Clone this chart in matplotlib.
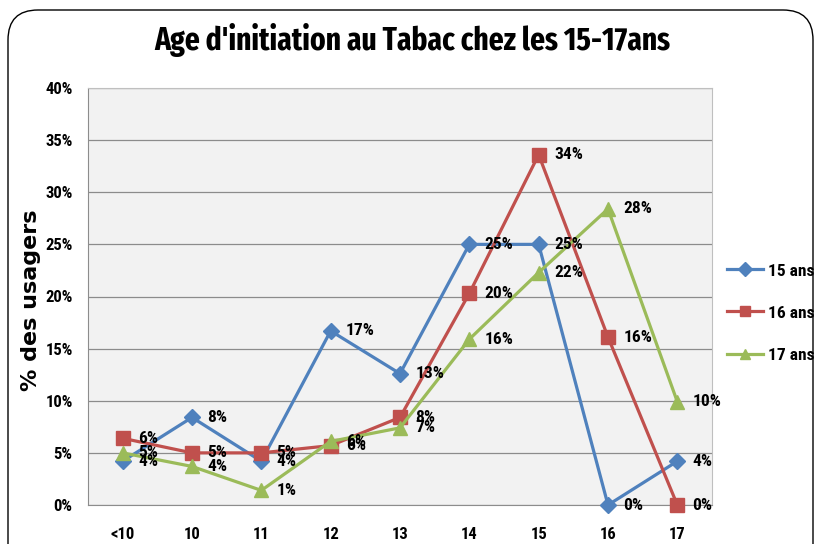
import matplotlib
matplotlib.use("Agg")
import matplotlib.pyplot as plt
from matplotlib.patches import FancyBboxPatch
from matplotlib import font_manager

categories = ["<10", "10", "11", "12", "13", "14", "15", "16", "17"]
s15 = [4.2, 8.4, 4.2, 16.7, 12.6, 25.0, 25.0, 0.0, 4.2]
s16 = [6.4, 5.0, 5.0, 5.7, 8.4, 20.3, 33.6, 16.1, 0.0]
s17 = [5.0, 3.7, 1.4, 6.1, 7.4, 15.9, 22.3, 28.4, 9.9]
series_names = ["15 ans", "16 ans", "17 ans"]
yticks = [0, 5, 10, 15, 20, 25, 30, 35, 40]

names = {f.name for f in font_manager.fontManager.ttflist}


def pick(cands):
    for cand in cands:
        if cand in names:
            return cand
    return "DejaVu Sans"


narrow = pick(["Roboto Condensed", "PT Sans Narrow", "Open Sans Condensed", "Carlito"])
title_font = pick(["Fira Sans Extra Condensed", "Roboto Condensed", "PT Sans Narrow"])

fig = plt.figure(figsize=(8.15, 5.44), dpi=100)
border = FancyBboxPatch((0.08, -0.5), 8.05, 5.34 + 0.5,
                        boxstyle="round,pad=0,rounding_size=0.3",
                        transform=fig.dpi_scale_trans, fill=False,
                        edgecolor="black", linewidth=1.0)
fig.patches.append(border)

W, H = 815, 544
ax = fig.add_axes([88 / W, 1 - 505 / H, (712 - 88) / W, (505 - 88) / H])
ax.set_facecolor("#F2F2F2")
x = list(range(len(categories)))
colors = ["#4F81BD", "#C0504D", "#9BBB59"]
markers = ["D", "s", "^"]
msizes = [8.5, 9.5, 10.5]
for vals, name, c, m, ms in zip([s15, s16, s17], series_names, colors, markers, msizes):
    ax.plot(x, vals, color=c, marker=m, markersize=ms, linewidth=2.3, label=name,
            clip_on=False, zorder=3)
    for xi, v in zip(x, vals):
        ax.annotate(f"{round(v):.0f}%", (xi, v), xytext=(11, 0), textcoords="offset points",
                    va="center", ha="left", fontsize=12.5, fontweight="bold",
                    family=narrow, color="black", zorder=4)

ax.set_xlim(-0.5, len(categories) - 0.5)
ax.set_ylim(0, 40)
ax.set_yticks(yticks)
ax.set_yticklabels([f"{t}%" for t in yticks], family=narrow, fontweight="bold", fontsize=12)
ax.set_xticks(x)
ax.set_xticklabels(categories, family=narrow, fontweight="bold", fontsize=12)
ax.tick_params(axis="y", length=0, pad=11)
ax.tick_params(axis="x", length=0, pad=16)
ax.grid(axis="y", color="#8C8C8C", linewidth=0.9)
ax.set_axisbelow(True)
for sp in ["top", "right"]:
    ax.spines[sp].set_color("#BFBFBF")
ax.spines["left"].set_color("#8C8C8C")
ax.spines["bottom"].set_color("#8C8C8C")

fig.text(31 / W, 1 - 300 / H, "% des usagers", rotation=90, ha="center", va="center",
         fontsize=16, fontweight="bold", family="DejaVu Sans")

fig.text(412 / W, 1 - 40 / H, "Age d'initiation au Tabac chez les 15-17ans",
         ha="center", va="center", fontsize=23, fontweight="bold", family=title_font)

leg = fig.legend(loc="center left", bbox_to_anchor=(727 / W, 1 - 313 / H), frameon=False,
                 prop={"family": narrow, "weight": "bold", "size": 12.5},
                 handlelength=2.1, labelspacing=1.55, handletextpad=0.25, borderpad=0,
                 borderaxespad=0)
for h in leg.legend_handles:
    h.set_markersize(7)

fig.savefig("out.png", dpi=100)
